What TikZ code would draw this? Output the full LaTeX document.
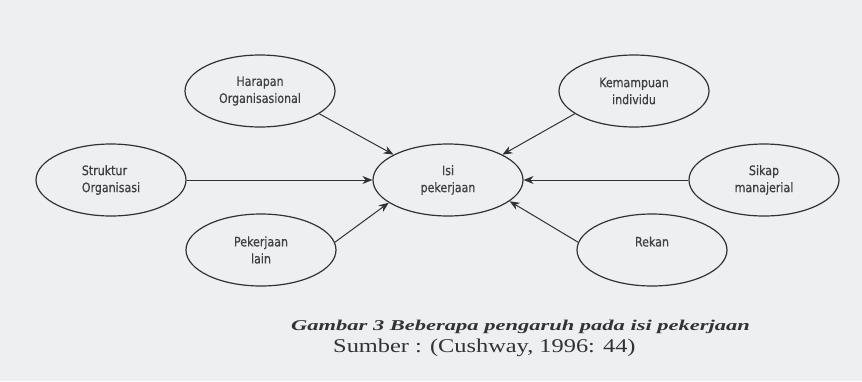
\documentclass[tikz,border=0pt]{standalone}
\usepackage{fontspec}
\setmainfont{Liberation Serif}
\newfontfamily\labelfont[FakeStretch=0.85,FakeBold=0.6]{DejaVu Sans}
\newfontfamily\capfont[FakeStretch=1.5]{Liberation Serif}
\newfontfamily\srcfont[FakeStretch=1.25]{Liberation Serif}
\usetikzlibrary{arrows.meta,shapes.geometric}
\definecolor{paper}{RGB}{238,239,241}
\definecolor{ink}{RGB}{50,50,50}

\begin{document}
\begin{tikzpicture}[x=1pt,y=-1pt,
    factor/.style={ellipse, draw=ink, line width=1.2pt, minimum width=150pt,
        minimum height=72pt, inner sep=0pt, align=center,
        font=\labelfont\fontsize{13}{17}\selectfont, text=black!75},
    influence/.style={-{Stealth[length=10pt,width=8pt]}, draw=ink, line width=1pt},
    caption/.style={anchor=base west, inner sep=0pt, text=black!80}]
    % Background
    \fill[paper] (0,0) rectangle (862,381);

    % Ellipses
    \node[factor] (isi) at (448,180) {Isi\\pekerjaan};
    \node[factor] (harapan) at (260,91) {Harapan\\Organisasional};
    \node[factor] (kemampuan) at (634,91) {Kemampuan\\individu};
    \node[factor, align=left] (struktur) at (111,180) {Struktur\\Organisasi};
    \node[factor] (sikap) at (764,180) {Sikap\\manajerial};
    \node[factor] (pekerjaan) at (261,250) {Pekerjaan\\lain};
    \node[factor] (rekan) at (652,250) {Rekan\\~};

    % Arrows into the centre
    \draw[influence] (harapan.-21) -- (isi.155);
    \draw[influence] (struktur.east) -- (isi.west);
    \draw[influence] (pekerjaan.6) -- (isi.-159);
    \draw[influence] (kemampuan.201) -- (isi.25);
    \draw[influence] (sikap.west) -- (isi.east);
    \draw[influence] (rekan.174) -- (isi.-19);

    % Caption
    \node[caption, font=\capfont\fontsize{15}{18}\selectfont\bfseries\itshape]
        (judul) at (291,330) {Gambar 3 Beberapa pengaruh pada isi pekerjaan};
    \node[caption, font=\srcfont\fontsize{19.5}{22}\selectfont]
        (sumber) at (333,352) {Sumber : (Cushway, 1996: 44)};
\end{tikzpicture}
\end{document}
